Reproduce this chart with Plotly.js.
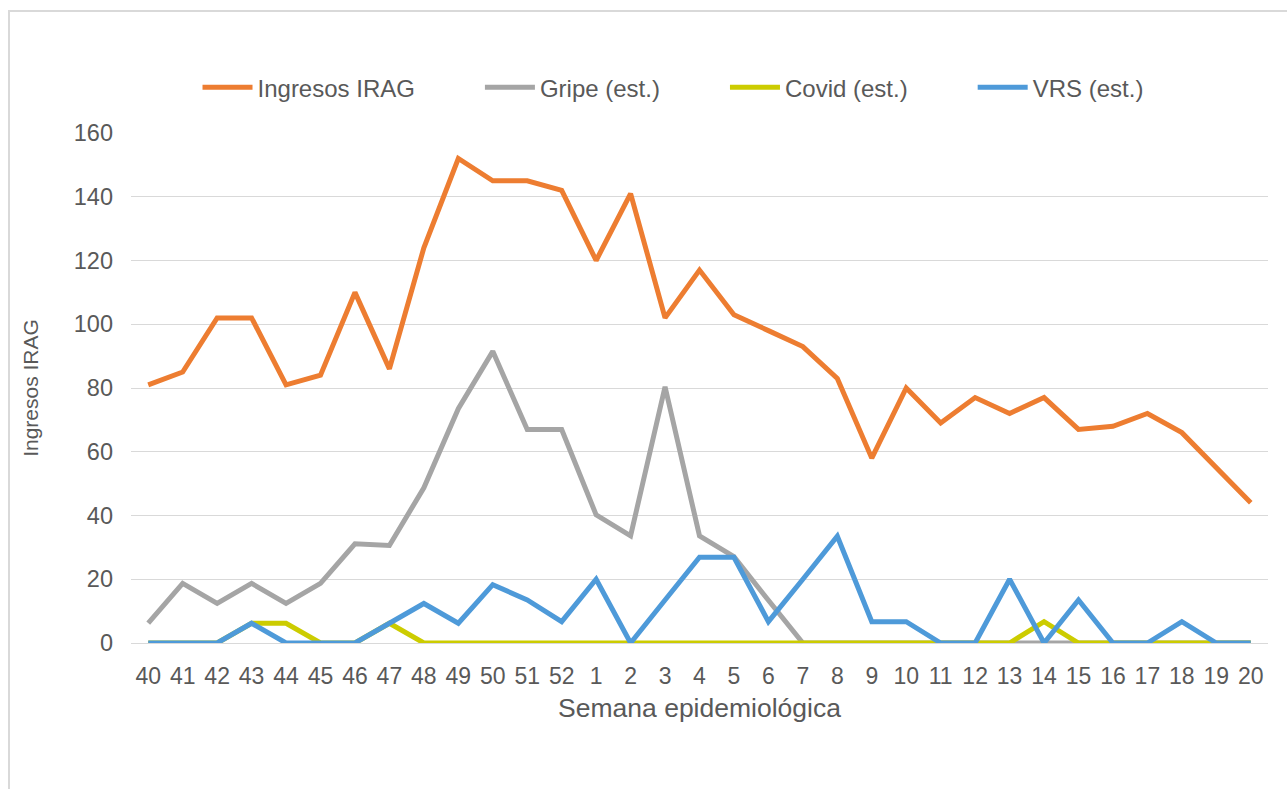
<!DOCTYPE html>
<html>
<head>
<meta charset="utf-8">
<script src="https://cdn.plot.ly/plotly-3.0.1.min.js"></script>
<style>
  html, body { margin: 0; padding: 0; background: #ffffff; }
  #wrap { position: relative; width: 1287px; height: 789px; overflow: hidden; }
  #chart { position: absolute; left: 0; top: 0; width: 1287px; height: 789px; }
  #frame { position: absolute; left: 8px; top: 10px; width: 1400px; height: 900px;
           border: 2px solid #d9d9d9; pointer-events: none; box-sizing: border-box; }
</style>
</head>
<body>
<div id="wrap">
  <div id="chart"></div>
  <div id="frame"></div>
</div>
<script>
const semanas = ["40","41","42","43","44","45","46","47","48","49","50","51","52",
                 "1","2","3","4","5","6","7","8","9","10","11","12","13","14","15","16","17","18","19","20"];

const ingresosIRAG = [81, 85, 102, 102, 81, 84, 110, 86, 124, 152, 145, 145, 142,
                      120, 141, 102, 117, 103, 98, 93, 83, 58, 80, 69, 77, 72, 77, 67, 68, 72, 66, 55, 44];

const gripe = [6.2, 18.7, 12.4, 18.7, 12.4, 18.7, 31.1, 30.6, 48.7, 73.5, 91.5, 67, 67,
               40.2, 33.6, 80.4, 33.6, 27.1, 13.4, 0, 0, 0, 0, 0, 0, 0, 0, 0, 0, 0, 0, 0, 0];

const covid = [0, 0, 0, 6.2, 6.2, 0, 0, 6.2, 0, 0, 0, 0, 0,
               0, 0, 0, 0, 0, 0, 0, 0, 0, 0, 0, 0, 0, 6.7, 0, 0, 0, 0, 0, 0];

const vrs = [0, 0, 0, 6.2, 0, 0, 0, 6.2, 12.4, 6.2, 18.3, 13.5, 6.7,
             20, 0, 13.5, 26.9, 26.9, 6.7, 20, 33.5, 6.7, 6.7, 0, 0, 20, 0, 13.5, 0, 0, 6.7, 0, 0];

const seriesNames = ["Ingresos IRAG", "Gripe (est.)", "Covid (est.)", "VRS (est.)"];
const seriesColors = ["#ED7D31", "#A5A5A5", "#CCCC00", "#4E9AD9"];
const seriesValues = [ingresosIRAG, gripe, covid, vrs];

const yTicks = [0, 20, 40, 60, 80, 100, 120, 140, 160];

const legendPad = "\u00a0".repeat(9);

const traces = seriesValues.map((vals, i) => ({
  type: "scatter",
  mode: "lines",
  name: seriesNames[i] + (i < seriesNames.length - 1 ? legendPad : ""),
  x: semanas,
  y: vals,
  line: { color: seriesColors[i], width: 5, shape: "linear" },
  hovertemplate: seriesNames[i] + ": %{y}<extra></extra>"
}));

const textColor = "#595959";
const fontFam = "Liberation Sans, Arial, sans-serif";

const layout = {
  width: 1287,
  height: 789,
  margin: { l: 131, r: 19, t: 133, b: 146 },
  paper_bgcolor: "rgba(0,0,0,0)",
  plot_bgcolor: "rgba(0,0,0,0)",
  font: { family: fontFam, color: textColor, size: 22 },
  showlegend: true,
  legend: {
    orientation: "h",
    x: 0.0585,
    xanchor: "left",
    y: 1.089,
    yanchor: "middle",
    font: { family: fontFam, size: 24, color: textColor },
    itemwidth: 50,
    traceorder: "normal"
  },
  xaxis: {
    type: "category",
    range: [-0.5, semanas.length - 0.5],
    showgrid: false,
    showline: false,
    zeroline: false,
    ticks: "",
    ticklabelstandoff: 17,
    tickfont: { family: fontFam, size: 23, color: textColor },
    title: { text: "Semana epidemiológica", font: { family: fontFam, size: 26.5, color: textColor }, standoff: 10 },
    fixedrange: true
  },
  yaxis: {
    range: [0, 160],
    tickvals: yTicks,
    ticktext: yTicks.map(String),
    showgrid: true,
    gridcolor: "#D9D9D9",
    gridwidth: 1.3,
    zeroline: true,
    zerolinecolor: "#D9D9D9",
    zerolinewidth: 1.3,
    showline: false,
    ticks: "",
    ticklabelstandoff: 17,
    tickfont: { family: fontFam, size: 23.5, color: textColor },
    title: { text: "Ingresos IRAG", font: { family: fontFam, size: 21, color: textColor }, standoff: 29 },
    fixedrange: true
  }
};

Plotly.newPlot("chart", traces, layout, { displayModeBar: false });
</script>
</body>
</html>
